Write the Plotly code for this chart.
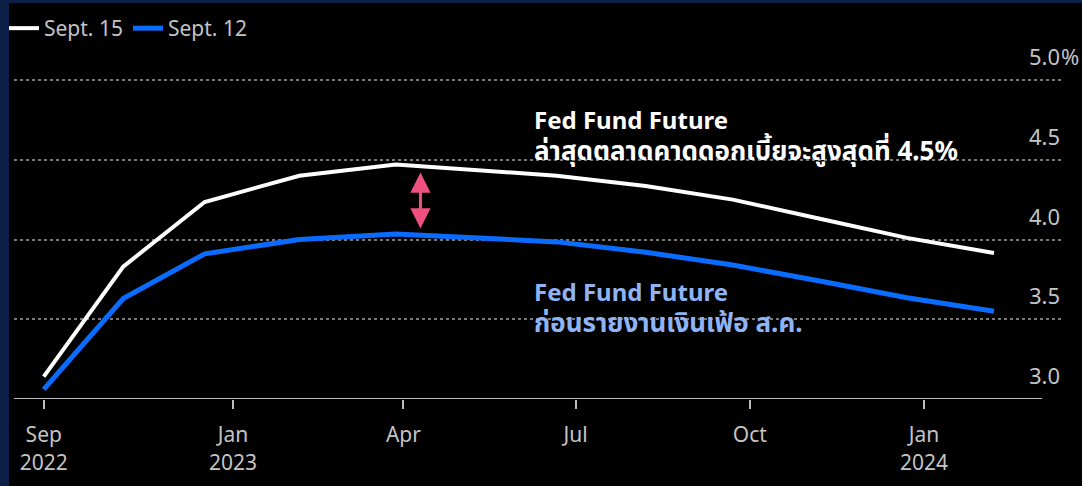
import plotly.graph_objects as go

# ---- data ----
dates = ['2022-09-23', '2022-11-04', '2022-12-17', '2023-02-05', '2023-03-28', '2023-05-06',
         '2023-06-21', '2023-08-07', '2023-09-22', '2023-11-07', '2023-12-23', '2024-02-07']
sept15 = [3.14, 3.83, 4.235, 4.40, 4.47, 4.44, 4.40, 4.335, 4.25, 4.13, 4.01, 3.915]
sept12 = [3.06, 3.63, 3.91, 4.00, 4.035, 4.015, 3.985, 3.92, 3.84, 3.74, 3.635, 3.55]

x_tickvals = ['2022-09-23', '2023-01-01', '2023-04-01', '2023-07-01', '2023-10-01', '2024-01-01']
x_ticktext = ['Sep<br>2022', 'Jan<br>2023', 'Apr', 'Jul', 'Oct', 'Jan<br>2024']
y_tickvals = [3.0, 3.5, 4.0, 4.5, 5.0]
y_ticktext = ['3.0', '3.5', '4.0', '4.5', '5.0']

series_names = ['Sept. 15', 'Sept. 12']
series_colors = ['#ffffff', '#0a6cff']

note_top_title = 'Fed Fund Future'
note_top_body = 'ล่าสุดตลาดคาดดอกเบี้ยจะสูงสุดที่ 4.5%'
note_bottom_title = 'Fed Fund Future'
note_bottom_body = 'ก่อนรายงานเงินเฟ้อ ส.ค.'

# ---- geometry (pixels) ----
W, H = 1082, 486
ML, MR, MT, MB = 14, 20, 40, 87
PW = W - ML - MR
PH = H - MT - MB

def px_x(p):
    return (p - ML) / PW

def px_y(p):
    return (H - MB - p) / PH

FONT = 'Noto Sans, Noto Sans Thai, DejaVu Sans, sans-serif'
GRAY = '#c4c4c4'

fig = go.Figure()
fig.add_trace(go.Scatter(x=dates, y=sept15, mode='lines', name=series_names[0],
                         line=dict(color=series_colors[0], width=4)))
fig.add_trace(go.Scatter(x=dates, y=sept12, mode='lines', name=series_names[1],
                         line=dict(color=series_colors[1], width=5)))

annotations = []
for v, t in zip(y_tickvals, y_ticktext):
    annotations.append(dict(x=1, xref='paper', y=v, yref='y', text=t, showarrow=False,
                            xanchor='right', yanchor='bottom', yshift=7,
                            font=dict(family=FONT, size=22, color=GRAY)))
annotations.append(dict(x=1, xref='paper', y=y_tickvals[-1], yref='y', text='%', showarrow=False,
                        xanchor='left', yanchor='bottom', yshift=7, xshift=-3,
                        font=dict(family=FONT, size=22, color=GRAY)))
thai = '<span style="font-size:26px">%s</span>'
annotations.append(dict(x=px_x(532), xref='paper', y=4.652, yref='y',
                        text=note_top_title + '<br>' + thai % note_top_body,
                        showarrow=False, xanchor='left', yanchor='middle', align='left',
                        font=dict(family=FONT, size=24, color='#ffffff', weight='bold')))
annotations.append(dict(x=px_x(532), xref='paper', y=3.574, yref='y',
                        text=note_bottom_title + '<br>' + thai % note_bottom_body,
                        showarrow=False, xanchor='left', yanchor='middle', align='left',
                        font=dict(family=FONT, size=24, color='#8fb4f5', weight='bold')))
annotations.append(dict(x='2023-04-10', y=4.42, xref='x', yref='y', ax='2023-04-10', ay=4.06,
                        axref='x', ayref='y', text='', showarrow=True, arrowhead=2,
                        startarrowhead=2, arrowside='end+start', arrowwidth=3,
                        arrowsize=1.35, startarrowsize=1.35, arrowcolor='#ef5080', standoff=0,
                        startstandoff=0))

NAVY = '#0c1f47'
shapes = [
    dict(type='line', xref='paper', yref='y', x0=0, x1=px_x(1042), y0=3.0, y1=3.0,
         line=dict(color='#bdbdbd', width=2)),
    dict(type='rect', xref='paper', yref='paper', x0=px_x(0), x1=px_x(9), y0=px_y(H), y1=px_y(0),
         line=dict(width=0), fillcolor=NAVY),
    dict(type='rect', xref='paper', yref='paper', x0=px_x(0), x1=px_x(W), y0=px_y(3), y1=px_y(0),
         line=dict(width=0), fillcolor=NAVY),
]

fig.update_layout(
    width=W, height=H,
    margin=dict(l=ML, r=MR, t=MT, b=MB, autoexpand=False),
    paper_bgcolor='#000000', plot_bgcolor='#000000',
    font=dict(family=FONT, size=20, color=GRAY),
    showlegend=True,
    legend=dict(orientation='h', x=px_x(4), y=px_y(8), xanchor='left', yanchor='top',
                bgcolor='rgba(0,0,0,0)', font=dict(family=FONT, size=21, color=GRAY),
                itemwidth=30, tracegroupgap=0),
    xaxis=dict(type='date', range=['2022-09-07 07:00', '2024-03-13 22:00'],
               tickvals=x_tickvals, ticktext=x_ticktext, ticks='outside', ticklen=9,
               tickwidth=2, tickcolor='#bdbdbd', showgrid=False, showline=False,
               zeroline=False, ticklabelstandoff=8,
               tickfont=dict(family=FONT, size=21, color=GRAY)),
    yaxis=dict(range=[3.0, 5.2508], tickvals=y_tickvals[1:], showticklabels=False,
               showgrid=True, gridcolor='#7a7a7a', gridwidth=1.5, griddash='dot',
               zeroline=False, showline=False, ticks=''),
    annotations=annotations,
    shapes=shapes,
)

fig.write_html('out.html', config={'displayModeBar': False},
               post_script="document.body.style.margin='0';document.body.style.background='#000';")
